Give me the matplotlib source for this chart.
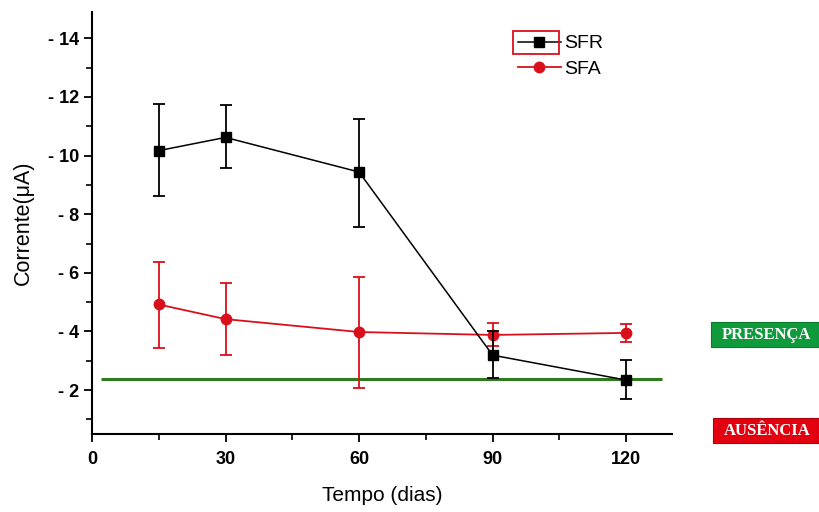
import matplotlib
matplotlib.use("Agg")
import matplotlib.pyplot as plt
from matplotlib.patches import Rectangle
from matplotlib.ticker import MultipleLocator, FixedLocator, FixedFormatter

# dados
dias = [15, 30, 60, 90, 120]
sfr = [10.17, 10.62, 9.44, 3.19, 2.34]
sfr_sup = [11.76, 11.73, 11.25, 4.00, 3.02]
sfr_inf = [8.62, 9.57, 7.56, 2.40, 1.69]
sfa = [4.92, 4.42, 3.98, 3.88, 3.95]
sfa_sup = [6.38, 5.66, 5.86, 4.30, 4.25]
sfa_inf = [3.43, 3.19, 2.08, 3.50, 3.64]
limite = 2.37
limite_x = [2, 128]

yticks = [2, 4, 6, 8, 10, 12, 14]
xticks = [0, 30, 60, 90, 120]

vermelho = '#d9101c'
verde = '#2f7a1f'

plt.rcParams['font.family'] = ['Liberation Sans', 'DejaVu Sans']

fig = plt.figure(figsize=(8.19, 5.12), dpi=100)
ax = fig.add_axes([92/819, 1 - 434/512, 580/819, 422/512])

# limite de detecção
ax.hlines(limite, limite_x[0], limite_x[1], color=verde, lw=2.2, zorder=1)

# erros assimétricos
sfa_err = [[v - lo for v, lo in zip(sfa, sfa_inf)], [hi - v for v, hi in zip(sfa, sfa_sup)]]
sfr_err = [[v - lo for v, lo in zip(sfr, sfr_inf)], [hi - v for v, hi in zip(sfr, sfr_sup)]]

e_sfa = ax.errorbar(dias, sfa, yerr=sfa_err, color=vermelho, marker='o', ms=7.5, lw=1.3,
                    elinewidth=1.3, capsize=4, capthick=1.3, zorder=2)
e_sfr = ax.errorbar(dias, sfr, yerr=sfr_err, color='black', marker='s', ms=6.5, lw=1.1,
                    elinewidth=1.3, capsize=4, capthick=1.3, zorder=3)

ax.set_xlim(0, 130.3)
ax.set_ylim(0.5, 14.9)

for s in ['top', 'right']:
    ax.spines[s].set_visible(False)
for s in ['left', 'bottom']:
    ax.spines[s].set_linewidth(1.5)

ax.yaxis.set_major_locator(FixedLocator(yticks))
ax.yaxis.set_major_formatter(FixedFormatter(['- %d' % t for t in yticks]))
ax.yaxis.set_minor_locator(MultipleLocator(1))
ax.xaxis.set_major_locator(FixedLocator(xticks))
ax.xaxis.set_minor_locator(MultipleLocator(15))
ax.tick_params(axis='both', which='major', direction='out', length=6, width=1.3,
               labelsize=13)
ax.tick_params(axis='both', which='minor', direction='out', length=4, width=1.2)
ax.tick_params(axis='x', pad=6)
for lab in ax.get_xticklabels() + ax.get_yticklabels():
    lab.set_fontweight('bold')

ax.set_xlabel('Tempo (dias)', fontsize=15, labelpad=13)
ax.set_ylabel('Corrente(μA)', fontsize=15.5, labelpad=10)

# legenda
leg = ax.legend([e_sfr[0], e_sfa[0]], ['SFR', 'SFA'], loc='upper left',
                bbox_to_anchor=(508/819, 1 - 25/512),
                bbox_transform=fig.transFigure, frameon=False, fontsize=14,
                handlelength=2.2, handletextpad=0.2, labelspacing=0.42, borderpad=0)
fig.patches.append(Rectangle((513/819, 1 - 54/512), 46/819, 23/512, transform=fig.transFigure,
                             fill=False, edgecolor=vermelho, lw=1.3))

# caixas de presença / ausência
fig.patches.append(Rectangle((711/819, 1 - 347/512), 108/819, 25/512, transform=fig.transFigure,
                             facecolor='#0f9a3c', edgecolor='#0a7a2c', lw=0.8))
fig.patches.append(Rectangle((713/819, 1 - 443/512), 106/819, 25/512, transform=fig.transFigure,
                             facecolor='#e3000f', edgecolor='#b0000a', lw=0.8))
fig.text(766/819, 1 - 335/512, 'PRESENÇA', ha='center', va='center', color='white',
         fontsize=12, fontweight='bold', family=['Liberation Serif', 'DejaVu Serif'])
fig.text(767/819, 1 - 431/512, 'AUSÊNCIA', ha='center', va='center', color='white',
         fontsize=12, fontweight='bold', family=['Liberation Serif', 'DejaVu Serif'])

fig.savefig('out.png', dpi=100)
